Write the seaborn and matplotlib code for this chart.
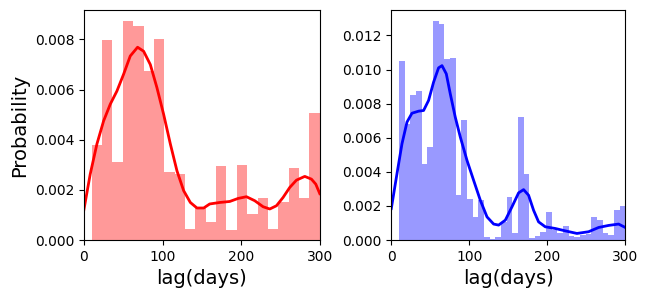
import numpy as np
import pandas as pd
import matplotlib
matplotlib.use("Agg")
import matplotlib.pyplot as plt
import seaborn as sns

# histogram bars (density)
left_edges = list(np.linspace(10, 300, 23))
left_heights = [0.00381, 0.00797, 0.00313, 0.00872, 0.00853, 0.00675, 0.00801, 0.00272,
                0.00262, 0.00045, 0.00126, 0.00073, 0.00294, 0.00040, 0.00298, 0.00103,
                0.00167, 0.00045, 0.00152, 0.00289, 0.00167, 0.00506]

right_edges = list(np.linspace(10, 300, 41))
right_heights = [0.01048, 0.00679, 0.00851, 0.00876, 0.00449, 0.00546, 0.01284, 0.01268,
                 0.01063, 0.01067, 0.00263, 0.00702, 0.00240, 0.00133, 0.00238, 0.00016,
                 0.00004, 0.00020, 0.00107, 0.00254, 0.00039, 0.00720, 0.00386, 0.00014,
                 0.00025, 0.00045, 0.00166, 0.00062, 0.00039, 0.00084, 0.00025, 0.00020,
                 0.00029, 0.00033, 0.00133, 0.00117, 0.00039, 0.00031, 0.00176, 0.00199]

# kde curves
left_kde_x = [0, 8.1, 16.6, 25.1, 33.6, 42, 50.5, 59, 68.3, 76, 84.5, 92.9, 101.4, 110,
              118.4, 126.9, 135.4, 143.8, 152.4, 160, 172.7, 185.5, 196, 206.7, 217.3,
              227.9, 236.4, 244.9, 253.3, 261.8, 270.3, 280.9, 289.4, 294.9, 300]
left_kde_y = [0.00120, 0.00263, 0.00383, 0.00475, 0.00542, 0.00594, 0.00661, 0.00734,
              0.00769, 0.00753, 0.00700, 0.00608, 0.00502, 0.00383, 0.00276, 0.00197,
              0.00150, 0.00128, 0.00128, 0.00144, 0.00150, 0.00154, 0.00166, 0.00173,
              0.00157, 0.00133, 0.00124, 0.00137, 0.00170, 0.00210, 0.00239, 0.00254,
              0.00243, 0.00223, 0.00185]

right_kde_x = [0, 7.3, 13.7, 20.1, 26.5, 35, 41.4, 47.8, 54.2, 60.6, 65, 70.5, 75.6, 82,
               88.5, 97, 105.5, 114.1, 122.7, 131.2, 137.6, 146.2, 154.7, 163.2, 169.6,
               176, 182.4, 188.8, 197.4, 210.3, 223.1, 238, 252.9, 265.8, 278.6, 291.4,
               300]
right_kde_y = [0.00185, 0.00390, 0.00565, 0.00692, 0.00744, 0.00756, 0.00760, 0.00819,
               0.00926, 0.01010, 0.01023, 0.00975, 0.00858, 0.00721, 0.00604, 0.00468,
               0.00351, 0.00234, 0.00136, 0.00094, 0.00088, 0.00117, 0.00195, 0.00277,
               0.00296, 0.00263, 0.00175, 0.00107, 0.00078, 0.00068, 0.00054, 0.00039,
               0.00049, 0.00074, 0.00086, 0.00094, 0.00074]

fig = plt.figure(figsize=(6.5, 2.99), dpi=100)
ax1 = fig.add_axes([0.129, 0.197, 0.363, 0.770])
ax2 = fig.add_axes([0.602, 0.197, 0.360, 0.770])

panels = [
    (ax1, left_edges, left_heights, left_kde_x, left_kde_y, "red", 0.00918),
    (ax2, right_edges, right_heights, right_kde_x, right_kde_y, "blue", 0.0135),
]

for ax, edges, heights, kx, ky, col, ytop in panels:
    bars = pd.DataFrame({
        "lag": [(a + b) / 2 for a, b in zip(edges[:-1], edges[1:])],
        "density": heights,
    })
    sns.histplot(data=bars, x="lag", weights="density", bins=edges, stat="count",
                 color=col, alpha=0.4, linewidth=0, ax=ax)
    sns.lineplot(x=kx, y=ky, color=col, linewidth=2, ax=ax)
    ax.set_xlim(0, 300)
    ax.set_ylim(0, ytop)
    ax.set_xticks([0, 100, 200, 300])
    ax.set_xlabel("lag(days)", fontsize=14)
    ax.set_ylabel("")
    ax.tick_params(labelsize=10)

ax1.set_yticks([0, 0.002, 0.004, 0.006, 0.008])
ax2.set_yticks([0, 0.002, 0.004, 0.006, 0.008, 0.010, 0.012])
ax1.yaxis.set_major_formatter(matplotlib.ticker.FormatStrFormatter("%.3f"))
ax2.yaxis.set_major_formatter(matplotlib.ticker.FormatStrFormatter("%.3f"))
ax1.set_ylabel("Probability", fontsize=14)

fig.savefig("out.png", dpi=100)
